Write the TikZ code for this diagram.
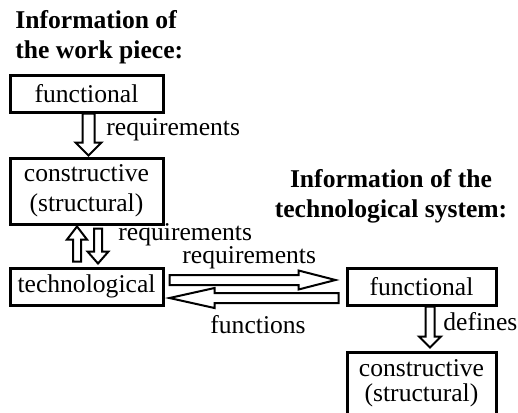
\documentclass[tikz,border=0pt]{standalone}
\usepackage{fontspec}
\setmainfont{Liberation Serif}
\usetikzlibrary{calc}

\newcommand{\diafont}{\fontsize{12.8}{15}\selectfont}

\tikzset{
  box/.style={draw, line width=1.5pt, inner sep=0pt, align=center},
  title/.style={font=\diafont\bfseries, inner sep=0pt},
  lbl/.style={inner sep=0pt, anchor=west},
  % hollow block arrow: shaft half width, head half width, head length
  blockarr/.style n args={3}{draw, line width=1pt, fill=white, line join=miter,
    to path={
      ($(\tikztotarget)!#3!(\tikztostart)$) coordinate (hb)
      ($(\tikztostart)!#1!90:(\tikztotarget)$)
      -- ($(hb)!#1!90:(\tikztotarget)$)
      -- ($(hb)!#2!90:(\tikztotarget)$)
      -- (\tikztotarget)
      -- ($(hb)!#2!-90:(\tikztotarget)$)
      -- ($(hb)!#1!-90:(\tikztotarget)$)
      -- ($(\tikztostart)!#1!-90:(\tikztotarget)$)
      -- cycle}}
}

\begin{document}
\begin{tikzpicture}[x=0.5pt, y=-0.5pt, font=\diafont]
  \useasboundingbox (0,0) rectangle (518,412);

  % Work piece
  \node[title, anchor=west, align=left] (wptitle) at (15,37) {Information of\\the work piece:};
  \node[box, minimum width=76.5pt, minimum height=18.5pt] (wpfunc) at (86.5,93.5) {functional};
  \node[box, minimum width=76.5pt, minimum height=33pt] (wpcons) at (86.5,191) {constructive\\(structural)};
  \node[box, minimum width=76.5pt, minimum height=18.5pt] (wptech) at (86.5,286.5) {technological};

  % Technological system
  \node[title, align=center] (tstitle) at (391,196) {Information of the\\technological system:};
  \node[box, minimum width=74.5pt, minimum height=18.5pt] (tsfunc) at (421.5,286.5) {functional};
  \node[box, minimum width=74.5pt, minimum height=31pt, font=\fontsize{12.8}{12.5}\selectfont] (tscons) at (421.5,383) {constructive\\(structural)};

  % Arrow ends
  \coordinate (fcs) at ($(wpfunc.south)+(2,0)$);
  \coordinate (fce) at ($(wpcons.north)+(2,-1)$);
  \coordinate (ups) at ($(wptech.north)+(-9.5,-5)$);
  \coordinate (upe) at ($(wpcons.south)+(-9.5,1)$);
  \coordinate (dns) at ($(wpcons.south)+(11.5,3)$);
  \coordinate (dne) at ($(wptech.north)+(11.5,-3)$);
  \coordinate (rqs) at ($(wptech.east)+(5,-6.5)$);
  \coordinate (rqe) at ($(tsfunc.west)+(-10,-6.5)$);
  \coordinate (fns) at ($(tsfunc.west)+(-7,11.5)$);
  \coordinate (fne) at ($(wptech.east)+(5,11.5)$);
  \coordinate (dfs) at ($(tsfunc.south)+(8.5,0)$);
  \coordinate (dfe) at ($(tscons.north)+(8.5,-3)$);

  % Arrows
  \draw[blockarr={3pt}{6.5pt}{6.5pt}] (fcs) to (fce);
  \draw[blockarr={2pt}{5pt}{6.5pt}] (ups) to (upe);
  \draw[blockarr={2pt}{5.25pt}{6pt}] (dns) to (dne);
  \draw[blockarr={2.5pt}{4.75pt}{18.5pt}] (rqs) to (rqe);
  \draw[blockarr={2.5pt}{5pt}{22.5pt}] (fns) to (fne);
  \draw[blockarr={2.25pt}{5.5pt}{5.5pt}] (dfs) to (dfe);

  % Labels
  \node[lbl] (rq1) at (106,130) {requirements};
  \node[lbl] (rq2) at (118,235) {requirements};
  \node[lbl] (rq3) at (182,258) {requirements};
  \node[lbl] (fn) at (210,325) {functions};
  \node[lbl] (df) at (443,322) {defines};
\end{tikzpicture}
\end{document}
